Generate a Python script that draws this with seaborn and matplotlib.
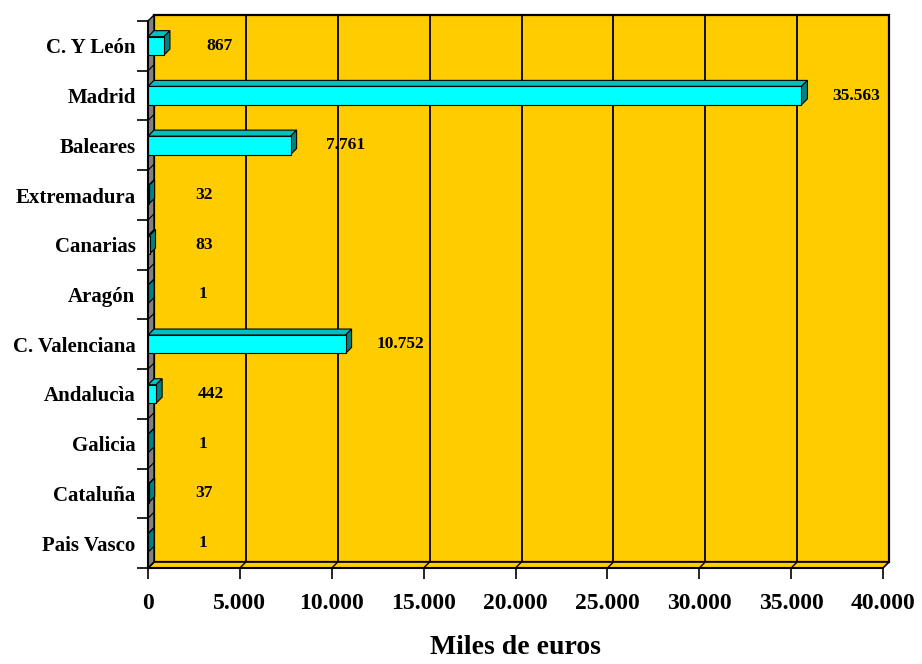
import matplotlib
matplotlib.use("Agg")
import matplotlib.pyplot as plt
from matplotlib.patches import Polygon, Rectangle
import seaborn as sns

# data
regions = ["C. Y León", "Madrid", "Baleares", "Extremadura", "Canarias", "Aragón",
           "C. Valenciana", "Andalucìa", "Galicia", "Cataluña", "Pais Vasco"]
values = [867, 35563, 7761, 32, 83, 1, 10752, 442, 1, 37, 1]
xticks = [0, 5000, 10000, 15000, 20000, 25000, 30000, 35000, 40000]

gold = "#FFCC00"
cyan = "#00FFFF"
teal_top = "#00BFBF"
teal_side = "#008080"

sns.set_style("white")
plt.rcParams["font.family"] = ["Liberation Serif", "DejaVu Serif"]
plt.rcParams["font.weight"] = "bold"
for key in ["text.color", "axes.labelcolor", "xtick.color", "ytick.color"]:
    plt.rcParams[key] = "black"

fig = plt.figure(figsize=(9.22, 6.64), dpi=100)
ax = fig.add_axes([148 / 922, 96 / 664, 735 / 922, 547 / 664])
ax.set_facecolor("none")

sns.barplot(x=values, y=regions, orient="h", color=cyan, width=0.37,
            edgecolor="black", linewidth=0.8, saturation=1, ax=ax, zorder=4)
bars = list(ax.patches)

xmax = 40000
ax.set_xlim(0, xmax)
ax.set_ylim(len(regions) - 0.5, -0.5)
y_lo, y_hi = len(regions) - 0.5, -0.5

# 3d depth offset, in data units (about 6 px)
dx = 6 / 735 * xmax
dy = 6 / 547 * len(regions)

# back wall with gridlines
ax.add_patch(Rectangle((dx, y_hi - dy), xmax, len(regions), facecolor=gold,
                       edgecolor="black", lw=1.6, zorder=0, clip_on=False))
for t in xticks[1:-1]:
    ax.plot([t + dx, t + dx], [y_hi - dy, y_lo - dy], color="black", lw=1.3,
            zorder=0.5, clip_on=False)
    ax.plot([t, t + dx], [y_lo, y_lo - dy], color="black", lw=1.0,
            zorder=1.5, clip_on=False)

# floor
ax.add_patch(Polygon([(0, y_lo), (xmax, y_lo), (xmax + dx, y_lo - dy), (dx, y_lo - dy)],
                     facecolor=gold, edgecolor="black", lw=1.2, zorder=1, clip_on=False))
# left wall
ax.add_patch(Polygon([(0, y_lo), (dx, y_lo - dy), (dx, y_hi - dy), (0, y_hi)],
                     facecolor="#808080", edgecolor="black", lw=1.0, zorder=1, clip_on=False))
for k in range(len(regions)):
    yb = k + 0.5
    ax.plot([0, dx], [yb, yb - dy], color="black", lw=0.8, zorder=1.5, clip_on=False)

# 3d faces of the bars
for p, v in zip(bars, values):
    x0, w = p.get_x(), p.get_width()
    yt = p.get_y()
    yb = yt + p.get_height()
    ax.add_patch(Polygon([(x0, yt), (x0 + w, yt), (x0 + w + dx, yt - dy), (x0 + dx, yt - dy)],
                         facecolor=teal_top, edgecolor="black", lw=0.8, zorder=3))
    ax.add_patch(Polygon([(x0 + w, yt), (x0 + w, yb), (x0 + w + dx, yb - dy), (x0 + w + dx, yt - dy)],
                         facecolor=teal_side, edgecolor="black", lw=0.8, zorder=3))
    ax.text(x0 + w + 3000, p.get_y() + p.get_height() / 2, f"{v:,}".replace(",", "."),
            ha="center", va="center", fontsize=12.5, fontweight="bold", zorder=5)

# axes styling
for s in ["top", "right"]:
    ax.spines[s].set_visible(False)
for s in ["left", "bottom"]:
    ax.spines[s].set_color("black")
    ax.spines[s].set_linewidth(1.5)
    ax.spines[s].set_zorder(6)

ax.set_xticks(xticks)
ax.set_xticklabels([f"{t:,}".replace(",", ".") for t in xticks], fontsize=17, fontweight="bold")
ax.tick_params(axis="x", which="major", bottom=True, direction="out", length=8,
               width=1.2, color="black", pad=10)
ax.set_yticks(range(len(regions)))
ax.set_yticklabels(regions, fontsize=15, fontweight="bold")
ax.set_yticks([k - 0.5 for k in range(len(regions) + 1)], minor=True)
ax.tick_params(axis="y", which="major", left=True, length=0, pad=9)
ax.tick_params(axis="y", which="minor", left=True, direction="out", length=8,
               width=1.2, color="black")
ax.grid(False)
ax.set_ylabel("")
ax.set_xlabel("Miles de euros", fontsize=20, fontweight="bold", labelpad=15)

fig.savefig("out.png", dpi=100)
